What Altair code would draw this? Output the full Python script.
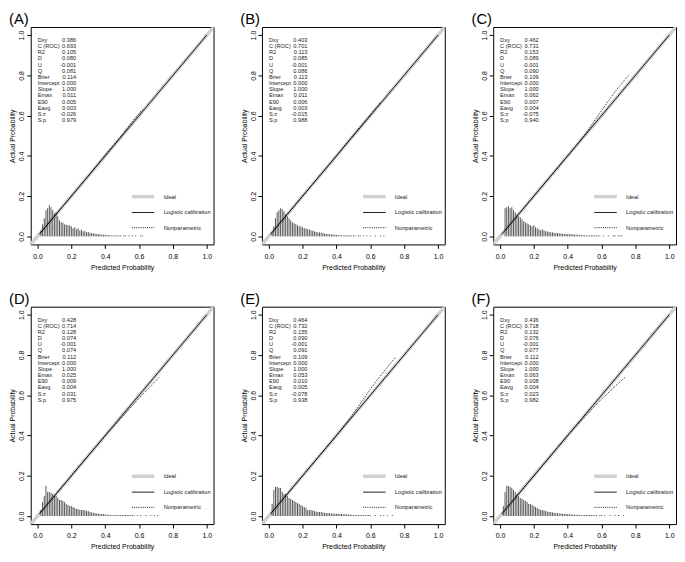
import altair as alt
import pandas as pd

FONT = "Liberation Sans"
LETTERS = ["A", "B", "C", "D", "E", "F"]
STAT_NAMES = ["Dxy", "C (ROC)", "R2", "D", "U", "Q", "Brier", "Intercept",
              "Slope", "Emax", "E90", "Eavg", "S:z", "S:p"]
STATS = {
    "A": [0.386, 0.693, 0.105, 0.080, -0.001, 0.081, 0.114, 0.000, 1.000, 0.011, 0.005, 0.003, -0.026, 0.979],
    "B": [0.403, 0.701, 0.113, 0.085, -0.001, 0.086, 0.113, 0.000, 1.000, 0.011, 0.006, 0.003, -0.015, 0.988],
    "C": [0.462, 0.731, 0.153, 0.089, -0.001, 0.090, 0.109, 0.000, 1.000, 0.062, 0.007, 0.004, -0.075, 0.940],
    "D": [0.428, 0.714, 0.128, 0.074, -0.001, 0.074, 0.112, 0.000, 1.000, 0.025, 0.009, 0.004, 0.031, 0.975],
    "E": [0.464, 0.732, 0.155, 0.090, -0.001, 0.091, 0.109, 0.000, 1.000, 0.053, 0.010, 0.005, -0.078, 0.938],
    "F": [0.436, 0.718, 0.132, 0.076, -0.001, 0.077, 0.112, 0.000, 1.000, 0.063, 0.008, 0.004, 0.023, 0.982],
}

# spike histogram heights, bins of 0.01 starting at 0.01
HIST = {
    "A": [0, .03, .06, .09, .13, .14, .155, .145, .13, .115, .12, .10, .08, .07, .068, .06, .058, .055, .055, .05,
          .04, .045, .035, .04, .03, .033, .025, .027, .02, .022, .018, .016, .015, .013, .012, .011, .01, .009,
          .008, .008, .006, .006, .005, .005, .005, .005, .005, .005, .005, 0, .005, .005, 0, .005, 0, .005, 0,
          .005, 0, 0, .005, .005],
    "B": [0, .02, .05, .09, .12, .13, .14, .135, .125, .11, .10, .09, .08, .07, .065, .06, .055, .05, .05, .045,
          .04, .04, .035, .035, .03, .028, .025, .022, .02, .02, .018, .016, .014, .012, .012, .01, .01, .009,
          .008, .007, .006, .006, .005, .005, .005, .005, .005, .005, .005, .005, .005, 0, .005, .005, 0, .005,
          0, .005, 0, .005, 0, 0, .005, 0, 0, .005, 0, .005],
    "C": [0, 0, .14, .145, .15, .14, .145, .13, .12, .11, .10, .095, .085, .075, .07, .065, .06, .055, .05, .055,
          .045, .04, .035, .03, .035, .03, .025, .025, .022, .02, .02, .018, .016, .017, .015, .014, .013, .013,
          .012, .012, .011, .011, .01, .009, .009, .008, .007, .007, .006, .006, .005, .005, .005, .005, .005,
          .005, .005, .005, .005, 0, .005, 0, 0, .005, 0, 0, .005, .005, 0, .005, .005, .005],
    "D": [0, .03, .07, .10, .15, .12, .12, .115, .11, .105, .10, .09, .08, .08, .075, .07, .06, .055, .05, .05,
          .045, .04, .035, .035, .03, .03, .03, .03, .025, .025, .02, .018, .016, .015, .013, .012, .01, .01,
          .009, .008, .007, .006, .006, .005, .005, .005, .005, .005, .005, .005, .005, .005, .005, .005, .005,
          .005, .005, 0, .005, 0, .005, 0, 0, .005, 0, 0, .005, 0, .005, 0, .005],
    "E": [0, .06, .13, .145, .145, .14, .14, .12, .11, .11, .10, .09, .085, .08, .075, .07, .065, .06, .055, .05,
          .045, .04, .03, .03, .03, .028, .025, .022, .02, .02, .02, .018, .016, .015, .015, .014, .013, .012,
          .012, .011, .011, .01, .01, .009, .009, .008, .008, .007, .006, .006, .005, .005, .005, .005, .005,
          .005, .005, .005, .005, .005, 0, 0, .005, 0, 0, .005, 0, .005, 0, .005, 0, 0, .005, 0],
    "F": [0, .05, .12, .15, .15, .145, .14, .13, .12, .11, .10, .09, .085, .08, .075, .07, .06, .06, .055, .05,
          .045, .04, .035, .03, .03, .028, .025, .022, .02, .02, .018, .016, .015, .014, .013, .012, .011, .011,
          .01, .01, .009, .008, .008, .007, .006, .006, .005, .005, .005, .005, .005, .005, .005, .005, .005,
          .005, .005, 0, .005, .005, 0, .005, 0, 0, .005, 0, 0, .005, 0, .005, 0, 0, .005],
}

# nonparametric (lowess) calibration curves
NP_X = {
    "A": [0.02, 0.1, 0.2, 0.3, 0.4, 0.5, 0.56, 0.62],
    "B": [0.02, 0.1, 0.2, 0.3, 0.4, 0.5, 0.6, 0.66],
    "C": [0.03, 0.1, 0.2, 0.3, 0.4, 0.5, 0.6, 0.7, 0.76],
    "D": [0.02, 0.1, 0.2, 0.3, 0.4, 0.5, 0.6, 0.72],
    "E": [0.02, 0.1, 0.2, 0.3, 0.4, 0.5, 0.6, 0.75],
    "F": [0.02, 0.1, 0.2, 0.3, 0.4, 0.5, 0.6, 0.74],
}
NP_Y = {
    "A": [0.02, 0.1, 0.2, 0.3, 0.405, 0.505, 0.57, 0.63],
    "B": [0.02, 0.1, 0.2, 0.3, 0.4, 0.505, 0.605, 0.665],
    "C": [0.03, 0.1, 0.2, 0.3, 0.4, 0.505, 0.625, 0.74, 0.80],
    "D": [0.02, 0.1, 0.2, 0.3, 0.398, 0.492, 0.585, 0.69],
    "E": [0.02, 0.1, 0.2, 0.3, 0.4, 0.51, 0.63, 0.79],
    "F": [0.02, 0.1, 0.2, 0.3, 0.4, 0.492, 0.58, 0.69],
}

IDEAL = [-0.05, 1.05]
LOGIT = [0.01, 1.0]
TICKS = [0.0, 0.2, 0.4, 0.6, 0.8, 1.0]
BIN_W = 0.01
LEGEND = ["Ideal", "Logistic calibration", "Nonparametric"]

W, H = 185, 220
DOMAIN = [-0.04, 1.04]


def X(field):
    return alt.X(f"{field}:Q", scale=alt.Scale(domain=DOMAIN, nice=False, zero=False),
                 axis=alt.Axis(values=TICKS, format=".1f", title="Predicted Probability"))


def Y(field):
    return alt.Y(f"{field}:Q", scale=alt.Scale(domain=DOMAIN, nice=False, zero=False),
                 axis=alt.Axis(values=TICKS, format=".1f", title="Actual Probability",
                               labelAngle=-90, labelAlign="center", labelBaseline="bottom"))


def one():
    return pd.DataFrame({"a": [0]})


def panel(letter):
    ideal = alt.Chart(pd.DataFrame({"x": IDEAL, "y": IDEAL})).mark_line(
        color="#d0d0d0", strokeWidth=3.5, clip=True).encode(x=X("x"), y=Y("y"))

    hv = HIST[letter]
    hdf = pd.DataFrame({"x": [round((i + 1) * BIN_W, 2) for i in range(len(hv))], "h": hv})
    hdf["base"] = 0.0
    hdf = hdf[hdf["h"] > 0]
    hist = alt.Chart(hdf).mark_rule(color="#555555", strokeWidth=1).encode(
        x=X("x"), y=Y("base"), y2="h")

    logit = alt.Chart(pd.DataFrame({"x": LOGIT, "y": LOGIT})).mark_line(
        color="black", strokeWidth=0.9).encode(x=X("x"), y=Y("y"))

    npc = alt.Chart(pd.DataFrame({"x": NP_X[letter], "y": NP_Y[letter]})).mark_line(
        color="black", strokeWidth=0.9, strokeDash=[1, 1.2], interpolate="monotone").encode(
        x=X("x"), y=Y("y"))

    lab = alt.Chart(pd.DataFrame({"t": ["\n".join(STAT_NAMES)]})).mark_text(
        align="left", baseline="top", lineBreak="\n", lineHeight=6.25, fontSize=5.7,
        font=FONT, color="#222").encode(x=alt.value(7), y=alt.value(10), text="t:N")
    val = alt.Chart(pd.DataFrame({"t": ["\n".join(f"{v:.3f}" for v in STATS[letter])]})).mark_text(
        align="right", baseline="top", lineBreak="\n", lineHeight=6.25, fontSize=5.7,
        font=FONT, color="#222").encode(x=alt.value(46), y=alt.value(10), text="t:N")

    x1, x2, xt = W * 0.553, W * 0.676, W * 0.727
    ys = [H * 0.780, H * 0.853, H * 0.923]
    leg_ideal = alt.Chart(one()).mark_rule(color="#d0d0d0", strokeWidth=3.5).encode(
        x=alt.value(x1), x2=alt.value(x2), y=alt.value(ys[0]))
    leg_log = alt.Chart(one()).mark_rule(color="black", strokeWidth=0.9).encode(
        x=alt.value(x1), x2=alt.value(x2), y=alt.value(ys[1]))
    leg_np = alt.Chart(one()).mark_rule(color="black", strokeWidth=0.9, strokeDash=[1, 1.2]).encode(
        x=alt.value(x1), x2=alt.value(x2), y=alt.value(ys[2]))
    leg_txt = [
        alt.Chart(pd.DataFrame({"t": [LEGEND[i]]})).mark_text(
            align="left", baseline="middle", fontSize=5.8, font=FONT, color="#222").encode(
            x=alt.value(xt), y=alt.value(ys[i]), text="t:N")
        for i in range(3)
    ]

    return alt.layer(ideal, hist, logit, npc, lab, val, leg_ideal, leg_log, leg_np, *leg_txt).properties(
        width=W, height=H,
        title=alt.TitleParams(f"({letter})", anchor="start", fontSize=15, fontWeight="normal",
                              font=FONT, offset=0, color="black"))


row1 = alt.hconcat(*[panel(l) for l in LETTERS[:3]], spacing=25)
row2 = alt.hconcat(*[panel(l) for l in LETTERS[3:]], spacing=25)

chart = alt.vconcat(row1, row2, spacing=20).properties(padding=0).configure_view(
    stroke="black", strokeWidth=1
).configure_axis(
    labelFont=FONT, titleFont=FONT, labelFontSize=7, titleFontSize=7, tickColor="black",
    tickSize=4, domain=False, grid=False, labelColor="black", titleColor="black",
    titleFontWeight="normal"
).configure_axisX(
    labelPadding=4, titlePadding=4
).configure_axisY(
    labelPadding=2, titlePadding=2
)

chart.save("out.html", embed_options={"renderer": "svg", "actions": False})
